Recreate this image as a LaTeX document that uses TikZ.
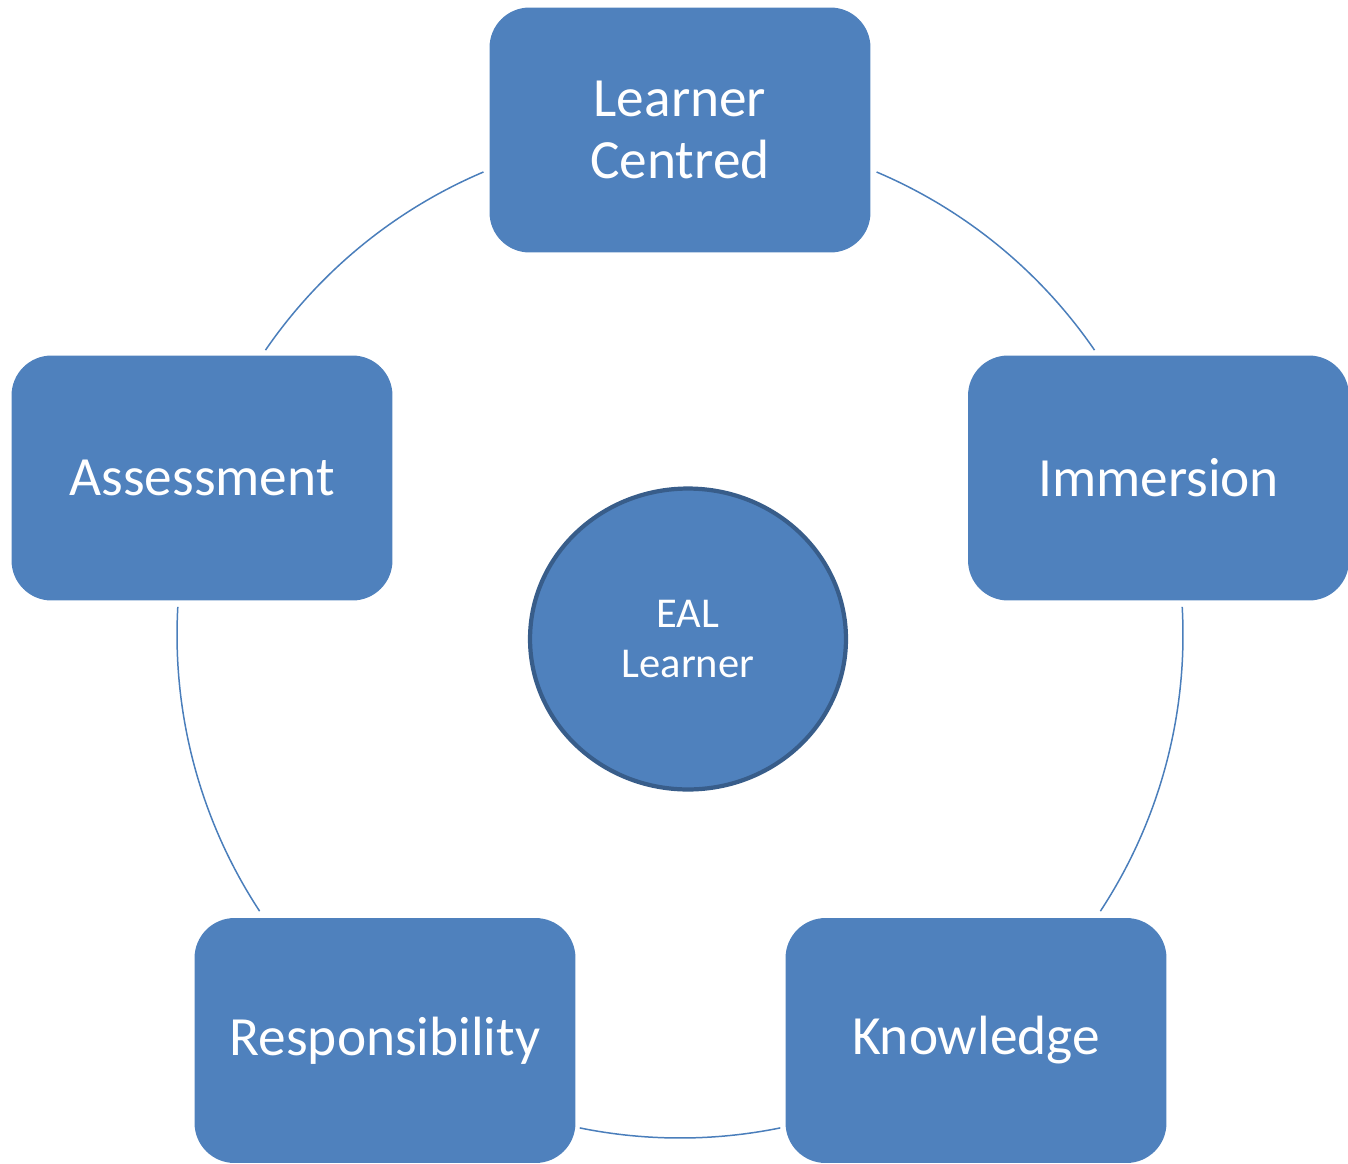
\documentclass[tikz,border=0pt]{standalone}
\usepackage{fontspec}
\setmainfont{Carlito}
\usetikzlibrary{shapes.geometric}
\definecolor{boxblue}{HTML}{4F81BD}
\definecolor{ringblue}{HTML}{4A7EBB}
\definecolor{hubedge}{HTML}{385D8A}
\tikzset{%
 pillar/.style={fill=boxblue, text=white, rounded corners=.8cm,
   minimum width=7.62cm, minimum height=4.9cm, inner sep=0pt,
   align=center, font=\fontsize{31.5}{35}\selectfont},
 core/.style={ellipse, fill=boxblue, draw=hubedge, line width=2.4pt,
   text=white, minimum width=6.32cm, minimum height=6.02cm, inner sep=0pt,
   align=center, font=\fontsize{24.2}{29}\selectfont},
 ring/.style={draw=ringblue, line width=.85pt}
}

\begin{document}
\begin{tikzpicture}[x=.02cm, y=-.02cm]
 \useasboundingbox (0,0) rectangle (1348,1163);
 \coordinate (hub) at (680,635);
 % ring pieces between the boxes, angles go clockwise since y points down
 \foreach \a/\b in {-113/-145.5, -67/-34.5, -3.2/33.3, 78.5/101.5, 146.7/183.2}
  \draw [ring] ([shift={(\a:503)}]hub) arc [start angle=\a, end angle=\b, radius=503];

 \node [pillar] (learner) at (680,130) {Learner\\Centred};
 \node [pillar] (immersion) at (1158.5,478) {Immersion};
 \node [pillar] (knowledge) at (976,1040.5) {Knowledge};
 \node [pillar] (responsibility) at (385,1040.5) {Responsibility};
 \node [pillar] (assessment) at (202,478) {Assessment};

 \node [core] (eal) at (688,639) {EAL\\Learner};
\end{tikzpicture}
\end{document}
